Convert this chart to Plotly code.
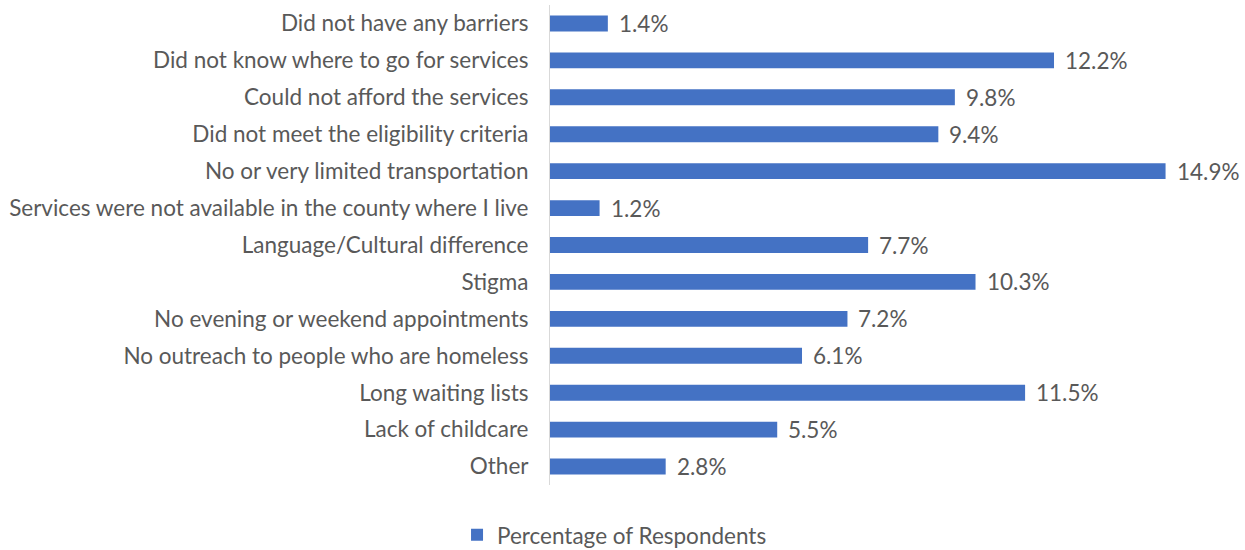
import plotly.graph_objects as go

categories = [
    "Did not have any barriers",
    "Did not know where to go for services",
    "Could not afford the services",
    "Did not meet the eligibility criteria",
    "No or very limited transportation",
    "Services were not available in the county where I live",
    "Language/Cultural difference",
    "Stigma",
    "No evening or weekend appointments",
    "No outreach to people who are homeless",
    "Long waiting lists",
    "Lack of childcare",
    "Other",
]
percentages = [1.4, 12.2, 9.8, 9.4, 14.9, 1.2, 7.7, 10.3, 7.2, 6.1, 11.5, 5.5, 2.8]
series_name = "Percentage of Respondents"

BAR_COLOR = "#4472C4"
TEXT_COLOR = "#595959"
FONT = "Lato, 'Open Sans', sans-serif"
FSIZE = 22.5

fig = go.Figure()
fig.add_trace(go.Bar(
    x=percentages,
    y=categories,
    orientation="h",
    name=series_name,
    marker=dict(color=BAR_COLOR, line=dict(width=0)),
    showlegend=True,
))

# data labels sit a little to the right of each bar end
for cat, val in zip(categories, percentages):
    fig.add_annotation(
        x=val, y=cat, text=f"{val:.1f}%",
        xanchor="left", xshift=9, showarrow=False,
        font=dict(size=FSIZE, color=TEXT_COLOR, family=FONT),
    )

fig.update_yaxes(
    autorange="reversed", automargin=False,
    showline=True, linecolor="#D9D9D9", linewidth=1,
    ticks="", ticklabelstandoff=16,
    tickfont=dict(size=FSIZE, color=TEXT_COLOR, family=FONT),
    showgrid=False,
)
fig.update_xaxes(
    range=[0, 16], visible=False, showgrid=False, zeroline=False,
    automargin=False,
)

fig.update_layout(
    width=1245, height=550,
    margin=dict(l=550, r=34, t=5, b=65, autoexpand=False),
    bargap=0.57,
    plot_bgcolor="white", paper_bgcolor="white",
    font=dict(family=FONT, color=TEXT_COLOR, size=FSIZE),
    legend=dict(
        orientation="h", x=0.4936, xref="container", xanchor="center",
        y=0.027, yref="container", yanchor="middle",
        itemwidth=30,
        font=dict(size=FSIZE, color=TEXT_COLOR, family=FONT),
    ),
)

# drop the browser's default body margin so the figure sits at the page corner
fig.write_html("out.html", config={"displayModeBar": False},
               post_script="document.body.style.margin='0';")
